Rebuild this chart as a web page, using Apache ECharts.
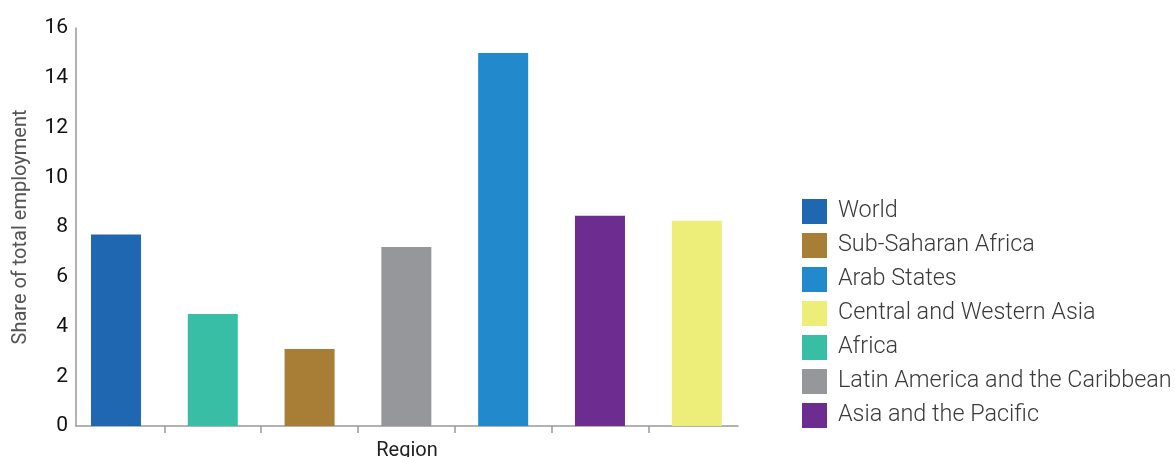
<!DOCTYPE html>
<html>
<head>
<meta charset="utf-8">
<script src="https://cdn.jsdelivr.net/npm/echarts@6/dist/echarts.min.js"></script>
<style>html,body{margin:0;padding:0;background:#fff}#c{width:1175px;height:457px}</style>
</head>
<body>
<div id="c"></div>
<script>
const regions = ['World','Africa','Sub-Saharan Africa','Latin America and the Caribbean','Arab States','Asia and the Pacific','Central and Western Asia'];
const values = [7.7, 4.5, 3.1, 7.2, 15.0, 8.45, 8.25];
const colors = ['#1f67b1','#38bea4','#a87d35','#96979a','#2389cd','#6d2c8f','#eded7a'];
const legendOrder = ['World','Sub-Saharan Africa','Arab States','Central and Western Asia','Africa','Latin America and the Caribbean','Asia and the Pacific'];
const yTicks = [0,2,4,6,8,10,12,14,16];

const chart = echarts.init(document.getElementById('c'));
const series = regions.map((r,i)=>({
  name: r,
  type: 'bar',
  data: [[i, values[i]]],
  barWidth: 50,
  barGap: '-100%',
  itemStyle: {color: colors[i]},
  emphasis: {disabled: true}
}));
chart.setOption({
  animation: false,
  textStyle: {fontFamily: 'Roboto'},
  grid: {left: 76, right: 437, top: 28, bottom: 31, containLabel: false, outerBoundsMode: 'none'},
  legend: {
    data: legendOrder,
    orient: 'vertical',
    left: 797, top: 194,
    itemWidth: 25, itemHeight: 25, itemGap: 9,
    icon: 'rect',
    textStyle: {fontSize: 23.4, color: '#3a3a3a', fontWeight: 300, fontFamily: 'Roboto', padding: [0,0,0,6]}
  },
  xAxis: {
    type: 'value',
    min: -0.413, max: 6.426,
    name: 'Region',
    nameLocation: 'middle',
    nameGap: 15,
    nameTextStyle: {fontSize: 20, color: '#222'},
    axisLine: {show: true, onZero: false, lineStyle: {color: '#999', width: 1.5}},
    axisTick: {show: true, length: 7, lineStyle: {color: '#999', width: 1.5}, customValues: [0.5,1.5,2.5,3.5,4.5,5.5]},
    axisLabel: {show: false},
    splitLine: {show: false}
  },
  yAxis: {
    type: 'value',
    min: yTicks[0], max: yTicks[yTicks.length-1], interval: 2,
    name: 'Share of total employment',
    nameLocation: 'middle',
    nameGap: 45,
    nameTextStyle: {fontSize: 20, color: '#555'},
    axisLine: {show: true, onZero: false, lineStyle: {color: '#999', width: 1.5}},
    axisTick: {show: false},
    axisLabel: {fontSize: 21, color: '#111', margin: 8},
    splitLine: {show: false}
  },
  series: series
});
</script>
</body>
</html>
